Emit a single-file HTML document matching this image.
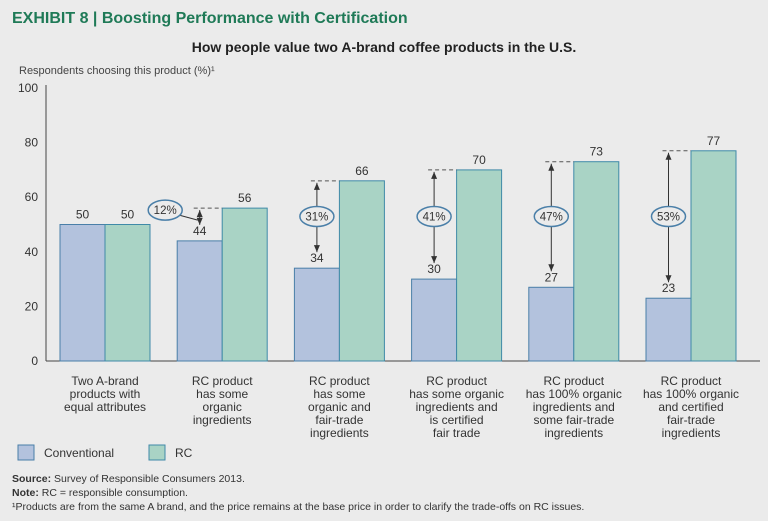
<!DOCTYPE html>
<html><head><meta charset="utf-8"><style>
body{margin:0;background:#ebebeb;width:768px;height:521px;overflow:hidden;font-family:"Liberation Sans",sans-serif}
svg{display:block}
</style></head><body>
<svg id="c" width="768" height="521" font-family="Liberation Sans, sans-serif">
<text x="12" y="23" font-size="16" font-weight="bold" fill="#1f7a57">EXHIBIT 8 | Boosting Performance with Certification</text>
<text x="384" y="52" font-size="14" font-weight="bold" fill="#222" text-anchor="middle">How people value two A-brand coffee products in the U.S.</text>
<text x="19" y="74" font-size="11" fill="#444">Respondents choosing this product (%)¹</text>
<g id="plot"></g>
<rect x="18" y="445" width="16" height="15" fill="#b3c2dd" stroke="#4a7fa8"/>
<text x="44" y="457" font-size="12" fill="#333">Conventional</text>
<rect x="149" y="445" width="16" height="15" fill="#a9d3c5" stroke="#3f8aa8"/>
<text x="175" y="457" font-size="12" fill="#333">RC</text>
<text x="12" y="482" font-size="10.5" fill="#333"><tspan font-weight="bold">Source:</tspan> Survey of Responsible Consumers 2013.</text>
<text x="12" y="496" font-size="10.5" fill="#333"><tspan font-weight="bold">Note:</tspan> RC = responsible consumption.</text>
<text x="12" y="510" font-size="10.5" fill="#333">¹Products are from the same A brand, and the price remains at the base price in order to clarify the trade-offs on RC issues.</text>
</svg>
<script>
const categories=[["Two A-brand","products with","equal attributes"],["RC product","has some","organic","ingredients"],["RC product","has some","organic and","fair-trade","ingredients"],["RC product","has some organic","ingredients and","is certified","fair trade"],["RC product","has 100% organic","ingredients and","some fair-trade","ingredients"],["RC product","has 100% organic","and certified","fair-trade","ingredients"]];
const conventional=[50,44,34,30,27,23];
const rc=[50,56,66,70,73,77];
const gaps=[null,"12%","31%","41%","47%","53%"];
const yTicks=[0,20,40,60,80,100];
const NS="http://www.w3.org/2000/svg";
const g=document.getElementById('plot');
const y0=361,y100=88,x0=46,step=117.2,firstC=105,bw=45;
const Y=v=>y0-(v/100)*(y0-y100);
const X=i=>firstC+i*step;
function el(t,a,p){const e=document.createElementNS(NS,t);for(const k in a)e.setAttribute(k,a[k]);(p||g).appendChild(e);return e;}
function tx(x,y,s,a,sz,fill){const e=el('text',{x:x,y:y,'font-size':sz||12,fill:fill||'#333','text-anchor':a||'middle'});e.textContent=s;return e;}
let ax=el('line',{x1:x0,y1:y100-3,x2:x0,y2:y0,stroke:'#444'});


let bx=el('line',{x1:x0,y1:y0,x2:760,y2:y0,stroke:'#444'});


yTicks.forEach(v=>{const t=tx(38,Y(v)+4,String(v),'end',12,'#333');

});
categories.forEach((c,i)=>{
 const cx=X(i);
 const b1=el('rect',{x:cx-bw,y:Y(conventional[i]),width:bw,height:y0-Y(conventional[i]),fill:'#b3c2dd',stroke:'#4a7fa8'});
 
 
 const b2=el('rect',{x:cx,y:Y(rc[i]),width:bw,height:y0-Y(rc[i]),fill:'#a9d3c5',stroke:'#3f8aa8'});
 
 
 const l1=tx(cx-bw/2,Y(conventional[i])-6,String(conventional[i]));
 
 
 const l2=tx(cx+bw/2,Y(rc[i])-6,String(rc[i]));
 
 
 c.forEach((line,j)=>{const t=tx(cx,385+j*13,line,'middle',12,'#333');
 
 });
 if(gaps[i]){
  const ta=Y(rc[i]),tb=Y(conventional[i]);
  const ax2=cx-bw/2;
  el('line',{x1:ax2-6,y1:ta,x2:cx,y2:ta,stroke:'#555','stroke-dasharray':'4,3'});
  el('line',{x1:ax2,y1:ta+2,x2:ax2,y2:tb-16,stroke:'#333'});
  el('path',{d:`M${ax2-3},${ta+9}L${ax2},${ta+2}L${ax2+3},${ta+9}Z`,fill:'#333'});
  el('path',{d:`M${ax2-3},${tb-23}L${ax2},${tb-16}L${ax2+3},${tb-23}Z`,fill:'#333'});
  let ex=ax2,ey=(ta+tb-16)/2;
  if(i==1){ex=cx-bw-12;ey=ta+2;el('line',{x1:ex+14,y1:ey+5,x2:ax2-2,y2:ey+10,stroke:'#333'});}
  const e=el('ellipse',{cx:ex,cy:ey,rx:17,ry:10,fill:'#ebebeb',stroke:'#4a7fa8','stroke-width':1.5});
  
  
  const t=tx(ex,ey+4,gaps[i],'middle',11.5,'#333');
  
  
 }
});
</script>
</body></html>
